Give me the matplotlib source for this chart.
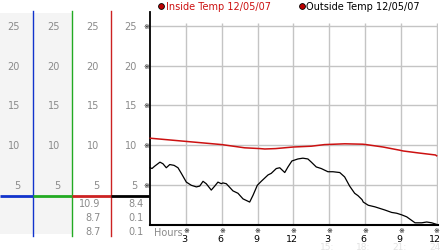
import matplotlib
matplotlib.use("Agg")
import matplotlib.pyplot as plt
from matplotlib.transforms import blended_transform_factory
from matplotlib.lines import Line2D
from matplotlib.patches import Rectangle

# ---------------- data ----------------
inside_hours = [0, 1.5, 3, 4.5, 6, 7.9, 9.2, 9.6, 10.5, 12, 13.5, 14.6, 16.3,
                17.8, 18.1, 19.5, 20.9, 21.2, 22.5, 23.9, 24]
inside_temp = [10.9, 10.7, 10.5, 10.3, 10.1, 9.7, 9.6, 9.55, 9.6, 9.8, 9.9,
               10.1, 10.2, 10.15, 10.1, 9.8, 9.4, 9.3, 9.05, 8.8, 8.7]

outside_hours = [0, 0.14, 0.37, 0.81, 1.06, 1.34, 1.63, 1.99, 2.32, 2.60, 3.02,
                 3.44, 3.86, 4.14, 4.42, 4.69, 5.11, 5.40, 5.67, 5.95, 6.09,
                 6.37, 6.93, 7.35, 7.77, 8.33, 8.61, 8.97, 9.30, 9.87, 10.14,
                 10.56, 10.85, 11.27, 11.54, 11.87, 12.37, 12.79, 13.21, 13.50,
                 13.91, 14.33, 14.89, 15.31, 15.88, 16.29, 16.71, 17.13, 17.41,
                 17.75, 17.85, 18.27, 18.83, 19.25, 19.67, 20.23, 20.65, 21.07,
                 21.49, 21.91, 22.19, 22.75, 23.17, 23.59, 24.0]
outside_temp = [7.2, 7.1, 7.4, 7.9, 7.7, 7.2, 7.6, 7.5, 7.2, 6.5, 5.4,
                5.0, 4.8, 4.9, 5.5, 5.2, 4.4, 4.9, 5.4, 5.2, 5.3,
                5.2, 4.3, 4.0, 3.3, 2.9, 3.75, 5.0, 5.5, 6.3, 6.5,
                7.1, 7.2, 6.6, 7.3, 8.05, 8.3, 8.4, 8.3, 7.9,
                7.3, 7.1, 6.7, 6.7, 6.6, 6.05, 4.9, 4.0, 3.7,
                3.2, 2.9, 2.5, 2.3, 2.1, 1.9, 1.6, 1.5, 1.3,
                1.05, 0.6, 0.3, 0.3, 0.4, 0.3, 0.1]

x_ticks = [3, 6, 9, 12, 15, 18, 21, 24]
x_tick_labels = ["3", "6", "9", "12", "3", "6", "9", "12"]
x_faint_ticks = [15, 18, 21, 24]
x_faint_labels = ["15:", "18:", "21:", "24"]
y_ticks = [5, 10, 15, 20, 25]
y_tick_labels = ["5", "10", "15", "20", "25"]
inside_stats = ["10.9", "8.7", "8.7"]
outside_stats = ["8.4", "0.1", "0.1"]
legend_labels = ["Inside Temp 12/05/07", "Outside Temp 12/05/07"]

# ---------------- layout helpers ----------------
W, H = 442, 253
fig = plt.figure(figsize=(W / 100, H / 100), dpi=100)
fig.patch.set_facecolor("white")


def fx(px):
    return px / W


def fy(py):
    return (H - py) / H


x0, x_px_per_h = 150.3, 11.93
y0, y_px_per_u = 226.2, 7.98
xmax, ymax = 24.1, 26.7
ax = fig.add_axes([fx(x0), fy(y0), xmax * x_px_per_h / W, ymax * y_px_per_u / H])
ax.set_xlim(0, xmax)
ax.set_ylim(0, ymax)
ax.set_facecolor("none")
for s in ["top", "right"]:
    ax.spines[s].set_visible(False)
ax.spines["left"].set_color("black")
ax.spines["left"].set_linewidth(1.3)
ax.spines["bottom"].set_color("black")
ax.spines["bottom"].set_linewidth(1.5)
ax.set_xticks([])
ax.set_yticks([])

grid_c = "#c4c4c4"
ax.hlines(y_ticks, 0, 24, colors=grid_c, linewidth=1.0, zorder=1)
ax.vlines(x_ticks, 0, 25.3, colors=grid_c, linewidth=1.0, zorder=1)

ax.plot(inside_hours, inside_temp, color="#cc1111", linewidth=1.1, zorder=3,
        clip_on=False)
ax.plot(outside_hours, outside_temp, color="black", linewidth=0.9, zorder=3,
        clip_on=False)

# tick marks (small glyphs) and labels
ty = blended_transform_factory(fig.transFigure, ax.transData)
tx = blended_transform_factory(ax.transData, fig.transFigure)
for v in y_ticks:
    ax.text(fx(146), v, "※", transform=ty, fontsize=5, ha="center",
            va="center", color="black")
for v, lab in zip(x_ticks, x_tick_labels):
    ax.text(v, fy(231), "※", transform=tx, fontsize=5, ha="center",
            va="center", color="black")
    ax.text(v - 0.15, fy(239.5), lab, transform=tx, fontsize=6.8, ha="center",
            va="center", color="black")
for v, lab in zip(x_faint_ticks, x_faint_labels):
    ax.text(v - 0.15, fy(247.5), lab, transform=tx, fontsize=6.5, ha="center",
            va="center", color="#e2e2e2")
fig.text(fx(154), fy(233.5), "Hours", fontsize=7, ha="left", va="center",
         color="#8a8a8a")

# ---------------- left panel ----------------
fig.add_artist(Rectangle((fx(0), fy(235)), fx(72), fy(14) - fy(235),
                         transform=fig.transFigure, facecolor="#f4f4f4",
                         edgecolor="none", zorder=0))
col_lines = [(33, "#1133cc"), (72, "#22aa22"), (111, "#cc2222")]
for xp, c in col_lines:
    fig.add_artist(Line2D([fx(xp), fx(xp)], [fy(12), fy(237)], color=c,
                          linewidth=1.0, transform=fig.transFigure))
cursor_val = 3.7
seg_cols = [(0, 33, "#1133cc"), (33, 72, "#22aa22"), (72, 111, "#cc2222"),
            (111, 149, "black")]
for a, b, c in seg_cols:
    fig.add_artist(Line2D([fx(a), fx(b)], [cursor_val, cursor_val], color=c,
                          linewidth=2.0, transform=ty, solid_capstyle="butt"))

label_right = [20, 60, 99, 137]
for xr in label_right:
    for v, lab in zip(y_ticks, y_tick_labels):
        fig.text(fx(xr), v, lab, transform=ty, fontsize=7, ha="right",
                 va="center", color="#8a8a8a")
stat_rows = [204.3, 218.3, 232.3]
for lab, yp in zip(inside_stats, stat_rows):
    fig.text(fx(100.5), fy(yp), lab, fontsize=7, ha="right", va="center",
             color="#8a8a8a")
for lab, yp in zip(outside_stats, stat_rows):
    fig.text(fx(144), fy(yp), lab, fontsize=7, ha="right", va="center",
             color="#8a8a8a")

# ---------------- legend ----------------
leg = [(160.7, 166.5, "#cc1111"), (301.7, 306.5, "black")]
for (cx, tx0, tc), lab in zip(leg, legend_labels):
    fig.add_artist(Line2D([fx(cx)], [fy(7)], marker="o", markersize=4.2,
                          markerfacecolor="#bb0000", markeredgecolor="black",
                          markeredgewidth=0.6, linestyle="none",
                          transform=fig.transFigure))
    fig.text(fx(tx0), fy(7), lab, fontsize=7, ha="left", va="center",
             color=tc)

fig.savefig("out.png", dpi=100)
